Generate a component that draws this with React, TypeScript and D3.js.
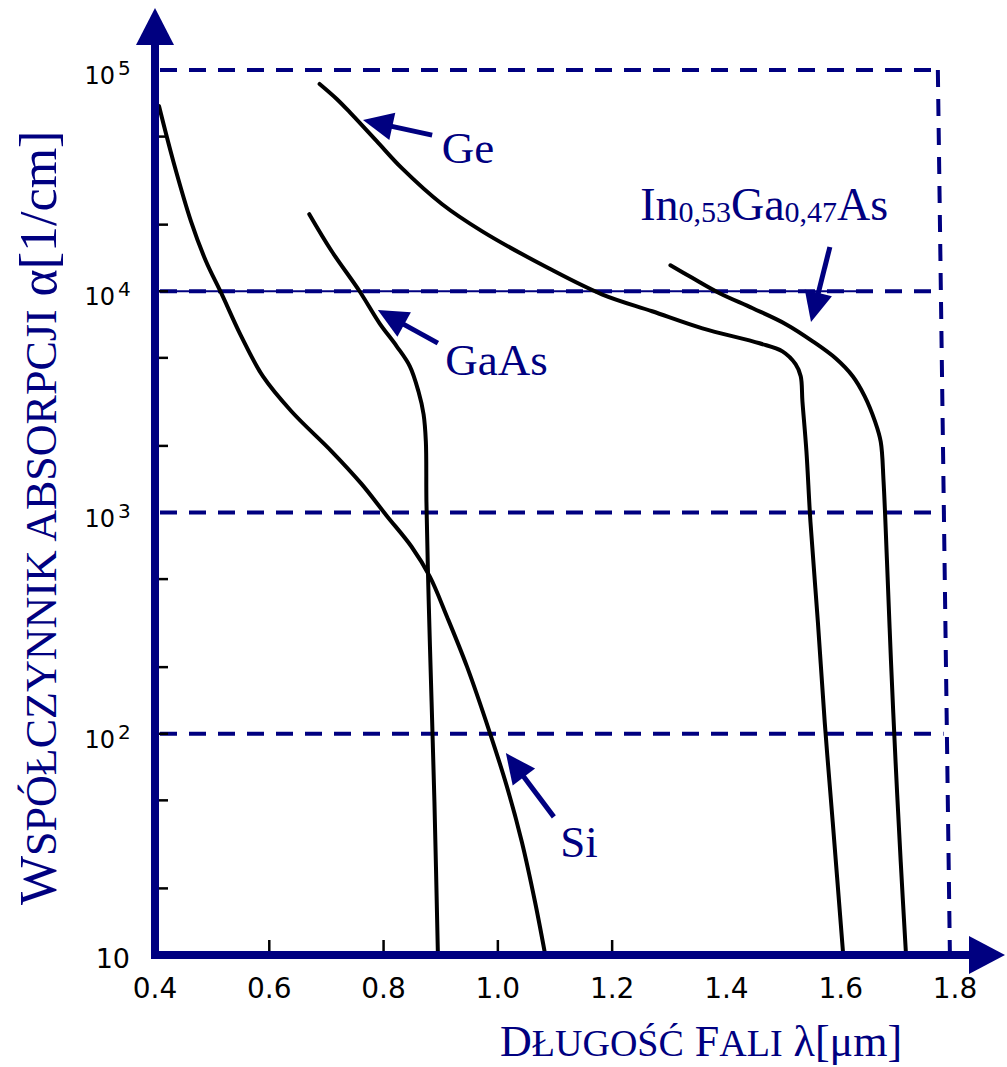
import React from "react";
import * as d3 from "d3";

// ---------- data ----------
const siX = [0.407, 0.432, 0.463, 0.489, 0.516, 0.551, 0.589, 0.639, 0.709, 0.761, 0.805, 0.849, 0.881, 0.911, 0.946, 0.986, 1.016, 1.042, 1.065, 1.082];
const siY = [68700, 38700, 20700, 13700, 9800, 6250, 4120, 2860, 1890, 1350, 970, 700, 513, 338, 201, 101, 57.5, 32.4, 17.4, 10.3];

const gaasX = [0.670, 0.709, 0.758, 0.793, 0.823, 0.846, 0.861, 0.870, 0.874, 0.875, 0.879, 0.884, 0.889, 0.895];
const gaasY = [22300, 15200, 10000, 7160, 5640, 4580, 3530, 2780, 2090, 1120, 395, 140, 49.2, 10.3];

const geX = [0.688, 0.718, 0.744, 0.788, 0.832, 0.902, 0.972, 1.089, 1.182, 1.270, 1.358, 1.458, 1.498, 1.521, 1.530, 1.533, 1.540, 1.547, 1.560, 1.572, 1.586, 1.604];
const geY = [86500, 74000, 63200, 47700, 36000, 24800, 18700, 12700, 9690, 8120, 6800, 5820, 5350, 4680, 4130, 3180, 1890, 910, 321, 113, 40, 10.3];

const ingaasX = [1.302, 1.340, 1.388, 1.446, 1.504, 1.551, 1.591, 1.621, 1.642, 1.660, 1.670, 1.675, 1.681, 1.688, 1.696, 1.705, 1.714];
const ingaasY = [13100, 11500, 9800, 8380, 7100, 5940, 4980, 4130, 3350, 2580, 2090, 1380, 600, 212, 74.7, 26.4, 10.3];

const xTickValues = [0.4, 0.6, 0.8, 1.0, 1.2, 1.4, 1.6, 1.8];
const xTickLabels = ["0.4", "0.6", "0.8", "1.0", "1.2", "1.4", "1.6", "1.8"];
const xTickMarks = [0.6, 0.8, 1.0, 1.2];
const yDecades = [100, 1000, 10000, 100000];
const yExponents = ["2", "3", "4", "5"];
const yMinorTicks = [20, 50, 100, 200, 500, 2000, 5000, 10000, 20000, 50000];

const gridValues = [100, 1000, 10000, 100000];
const gridEnds = [1.78, 1.783, 1.765, 1.77];
const vLineX = [1.77, 1.791];

const labelNames = ["Ge", "GaAs", "Si"];
const labelX = [0.902, 0.908, 1.109];
const labelY = [38000, 4180, 27.7];
const arrowTailX = [0.885, 0.895, 1.098, 1.581];
const arrowTailY = [50800, 5830, 42.1, 15850];
const arrowTipX = [0.764, 0.790, 1.014, 1.548];
const arrowTipY = [59400, 8220, 81.8, 7260];
const ingaasLabelX = 1.249;
const ingaasLabelY = 21000;

// ---------- layout ----------
const W = 1007;
const H = 1067;
const NAVY = "#000080";

const x = d3.scaleLinear().domain([0.4, 1.8]).range([155, 955]);
const y = d3.scaleLog().domain([10, 100000]).range([955, 70]);

const line = d3
  .line<[number, number]>()
  .x((d) => x(d[0]))
  .y((d) => y(d[1]))
  .curve(d3.curveCatmullRom.alpha(0.5));

const series = [
  [siX, siY],
  [gaasX, gaasY],
  [geX, geY],
  [ingaasX, ingaasY],
];

function Arrow({ x1, y1, x2, y2 }: { x1: number; y1: number; x2: number; y2: number }) {
  const dx = x2 - x1;
  const dy = y2 - y1;
  const len = Math.sqrt(dx * dx + dy * dy);
  const ux = dx / len;
  const uy = dy / len;
  const headL = 30;
  const headW = 14;
  const bx = x2 - ux * headL;
  const by = y2 - uy * headL;
  const px = -uy;
  const py = ux;
  const pts = [
    [x2, y2],
    [bx + px * headW, by + py * headW],
    [bx - px * headW, by - py * headW],
  ]
    .map((p) => p.join(","))
    .join(" ");
  return (
    <g>
      <line x1={x1} y1={y1} x2={bx + ux * 4} y2={by + uy * 4} stroke={NAVY} strokeWidth={5} />
      <polygon points={pts} fill={NAVY} />
    </g>
  );
}

export default function App() {
  const axisY = y(10);
  const axisX = x(0.4);
  const serif = "'Liberation Serif', 'Times New Roman', serif";
  const sans = "'DejaVu Sans', sans-serif";

  return (
    <svg
      width={W}
      height={H}
      viewBox={`0 0 ${W} ${H}`}
      style={{ position: "absolute", left: 0, top: 0, background: "#fff" }}
    >
      <rect x={0} y={0} width={W} height={H} fill="#fff" />

      {/* solid thin line at 10^4 */}
      <line x1={axisX} x2={x(1.65)} y1={y(10000)} y2={y(10000)} stroke={NAVY} strokeWidth={2} />

      {/* dashed grid lines */}
      {gridValues.map((v, i) => (
        <line
          key={"g" + i}
          x1={axisX + 5}
          x2={x(gridEnds[i])}
          y1={y(v)}
          y2={y(v)}
          stroke={NAVY}
          strokeWidth={4}
          strokeDasharray="17 12"
        />
      ))}
      <line
        x1={x(vLineX[0])}
        x2={x(vLineX[1])}
        y1={y(100000)}
        y2={axisY - 4}
        stroke={NAVY}
        strokeWidth={4}
        strokeDasharray="17 12"
      />

      {/* curves */}
      {series.map(([xs, ys], i) => (
        <path
          key={"s" + i}
          d={line(xs.map((v, j) => [v, ys[j]] as [number, number])) || ""}
          fill="none"
          stroke="#000"
          strokeWidth={4}
          strokeLinecap="round"
          strokeLinejoin="round"
        />
      ))}

      {/* minor ticks */}
      {yMinorTicks.map((v, i) => (
        <line key={"yt" + i} x1={axisX + 2} x2={axisX + 13} y1={y(v)} y2={y(v)} stroke="#000" strokeWidth={2.5} />
      ))}
      {xTickMarks.map((v, i) => (
        <line key={"xt" + i} x1={x(v)} x2={x(v)} y1={axisY - 3} y2={axisY - 15} stroke="#000" strokeWidth={2.5} />
      ))}

      {/* axes */}
      <line x1={axisX} x2={axisX} y1={axisY + 4} y2={44} stroke={NAVY} strokeWidth={8} />
      <polygon points={`${axisX - 19},45 ${axisX + 19},45 ${axisX},8`} fill={NAVY} />
      <line x1={axisX - 4} x2={970} y1={axisY} y2={axisY} stroke={NAVY} strokeWidth={8} />
      <polygon points={`969,${axisY - 19} 969,${axisY + 19} 1005,${axisY}`} fill={NAVY} />

      {/* x tick labels */}
      {xTickValues.map((v, i) => (
        <text
          key={"xl" + i}
          x={x(v)}
          y={998}
          textAnchor="middle"
          fontFamily={sans}
          fontSize={28}
          fill="#000"
        >
          {xTickLabels[i]}
        </text>
      ))}

      {/* y tick labels */}
      {yDecades.map((v, i) => (
        <g key={"yl" + i}>
          <text x={115} y={y(v) + 14} textAnchor="end" fontFamily={sans} fontSize={24} fill="#000">
            10
          </text>
          <text x={118} y={y(v) + 5} textAnchor="start" fontFamily={sans} fontSize={20} fill="#000">
            {yExponents[i]}
          </text>
        </g>
      ))}
      <text x={130} y={axisY + 13} textAnchor="end" fontFamily={sans} fontSize={27} fill="#000">
        10
      </text>

      {/* annotations */}
      {labelNames.map((n, i) => (
        <text key={"lab" + i} x={x(labelX[i])} y={y(labelY[i])} fontFamily={serif} fontSize={45} fill={NAVY}>
          {n}
        </text>
      ))}
      <text x={x(ingaasLabelX)} y={y(ingaasLabelY)} fontFamily={serif} fontSize={46} fill={NAVY}>
        <tspan>In</tspan>
        <tspan fontSize={30} dy={2}>0,53</tspan>
        <tspan dy={-2}>Ga</tspan>
        <tspan fontSize={30} dy={2}>0,47</tspan>
        <tspan dy={-2}>As</tspan>
      </text>
      {arrowTailX.map((v, i) => (
        <Arrow
          key={"ar" + i}
          x1={x(v)}
          y1={y(arrowTailY[i])}
          x2={x(arrowTipX[i])}
          y2={y(arrowTipY[i])}
        />
      ))}

      {/* axis titles */}
      <text x={500} y={1056} fontFamily={serif} fontSize={44} fill={NAVY}>
        <tspan>D</tspan>
        <tspan fontSize={38}>ŁUGOŚĆ</tspan>
        <tspan> F</tspan>
        <tspan fontSize={38}>ALI</tspan>
        <tspan> λ[μm]</tspan>
      </text>
      <text
        transform={`translate(56, 905) rotate(-90)`}
        x={0}
        y={0}
        fontFamily={serif}
        fontSize={52}
        fill={NAVY}
      >
        <tspan>W</tspan>
        <tspan fontSize={44}>SPÓŁCZYNNIK ABSORPCJI</tspan>
        <tspan> α[1/cm]</tspan>
      </text>
    </svg>
  );
}
